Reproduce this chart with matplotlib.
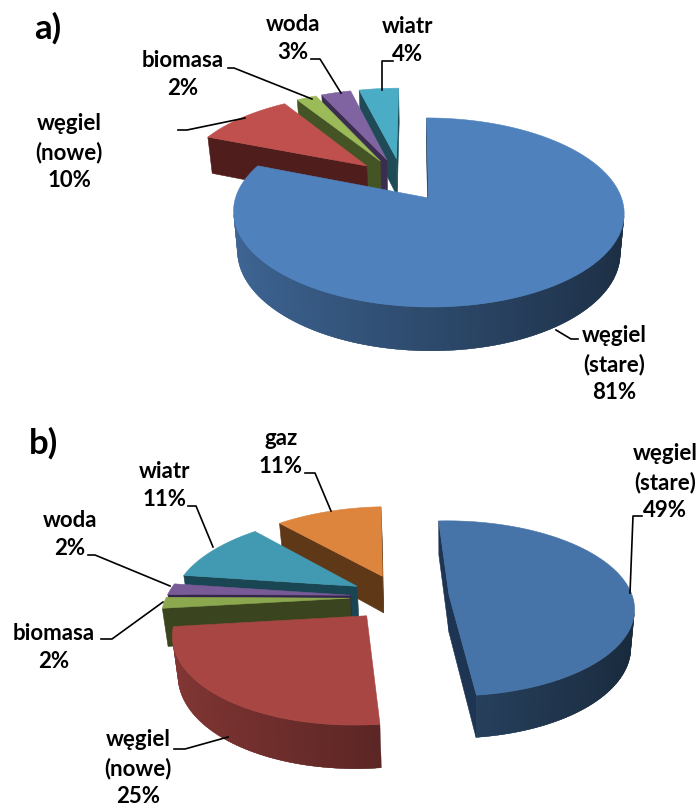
import numpy as np
import matplotlib
matplotlib.use("Agg")
from matplotlib import pyplot
from matplotlib.patches import Polygon

# shares in percent, clockwise from the first slice
namesA = ["węgiel\n(stare)", "węgiel\n(nowe)", "biomasa", "woda", "wiatr"]
valuesA = [81, 10, 2, 3, 4]
namesB = ["węgiel\n(stare)", "węgiel\n(nowe)", "biomasa", "woda", "wiatr", "gaz"]
valuesB = [49, 25, 2, 2, 11, 11]

colorsA = ["#4F81BD", "#C0504D", "#9BBB59", "#8064A2", "#4BACC6"]
sidesA = ["#1D3552", "#4F1E1C", "#445425", "#3B2D4F", "#1F4B57"]
colorsB = ["#4674A8", "#A84643", "#8CA84F", "#775A96", "#4299B2", "#DD843D"]
sidesB = ["#1D3552", "#4F1E1C", "#3A451F", "#33254A", "#1A4552", "#5E3817"]

# label centres and leader lines, in pixels
labelPosA = [(614, 335), (69, 123), (183, 60), (293, 24), (408, 26)]
leadersA = [
    [(556, 330), (571, 339), (578, 339)],
    [(245, 118), (187, 130), (178, 130)],
    [(312, 99), (234, 68), (228, 68)],
    [(341, 93), (320, 59), (311, 59)],
    [(382, 90), (382, 61), (393, 61)],
]
labelPosB = [(665, 453), (138, 739), (54, 633), (70, 520), (165, 471), (281, 438)]
leadersB = [
    [(630, 593), (633, 516), (642, 516)],
    [(228, 737), (185, 749), (174, 749)],
    [(163, 602), (112, 639), (101, 639)],
    [(170, 586), (95, 555), (88, 555)],
    [(213, 547), (196, 506), (188, 506)],
    [(331, 511), (315, 473), (305, 473)],
]

FONT = "Lato"
TILT = 0.153
SHRINK = 0.02
DRIFT = 15  # sideways pull of the vanishing point, pixels
EXPLODE_A = 0.25
EXPLODE_B = 0.27


def project(u, v, z, pie):
    s = 1 / (1 + TILT * v)
    far = 1 - SHRINK * z
    x = pie["x"] + pie["rx"] * u * s * far + DRIFT * (s - 1)
    y = pie["y"] - pie["ry"] * v * s * far + pie["depth"] * s * z
    return x, y


def shade(color, factor):
    rgb = np.array(matplotlib.colors.to_rgb(color))
    return tuple(rgb * factor)


def facesViewer(p, q, pz, qz):
    pts = [p, q, qz, pz]
    area = 0
    for i in range(4):
        a, b = pts[i], pts[(i + 1) % 4]
        area += a[0] * b[1] - b[0] * a[1]
    return area < 0


def drawFace(ax, p, q, pie, color, lw=0.4):
    # p and q are plane coordinates of one edge of the slice top
    top1, top2 = project(*p, 0, pie), project(*q, 0, pie)
    low1, low2 = project(*p, 1, pie), project(*q, 1, pie)
    if facesViewer(top1, top2, low1, low2):
        ax.add_patch(Polygon([top1, top2, low2, low1], closed=True, facecolor=color,
                             edgecolor=color, linewidth=lw))


def drawPie(ax, values, colors, sides, pie, explode):
    fractions = np.array(values) / sum(values)
    stops = np.radians(pie["start"] + 360 * np.cumsum(np.concatenate(([0], fractions))))
    mids = (stops[:-1] + stops[1:]) / 2
    # plane origin sits on the apex of the first slice
    centerU = -explode * np.sin(mids[0])
    centerV = -explode * np.cos(mids[0])
    apexes = [(centerU + explode * np.sin(m), centerV + explode * np.cos(m)) for m in mids]

    order = sorted(range(len(values)), key=lambda i: project(*apexes[i], 0, pie)[1])
    for i in order:
        au, av = apexes[i]
        angles = np.linspace(stops[i], stops[i + 1], max(int(fractions[i] * 240), 6))
        arc = [(au + np.sin(t), av + np.cos(t)) for t in angles]

        drawFace(ax, (au, av), arc[0], pie, sides[i])
        drawFace(ax, arc[-1], (au, av), pie, sides[i])
        # each outer segment overlaps the next one so no seams show
        for j in range(len(arc) - 1):
            t = (angles[j] + angles[j + 1]) / 2
            drawFace(ax, arc[j], arc[min(j + 2, len(arc) - 1)], pie,
                     shade(colors[i], 0.57 - 0.22 * np.sin(t)), lw=0.2)

        outline = [project(au, av, 0, pie)] + [project(*p, 0, pie) for p in arc]
        ax.add_patch(Polygon(outline, closed=True, facecolor=colors[i],
                             edgecolor=colors[i], linewidth=0.4))


def drawLabels(ax, names, values, positions, leaders):
    for name, value, pos, line in zip(names, values, positions, leaders):
        ax.text(pos[0], pos[1] - 10, f"{name}\n{value}%", ha="center", va="top",
                family=FONT, fontweight="bold", fontsize=16, linespacing=1.42,
                color="black")
        xs = [p[0] for p in line]
        ys = [p[1] for p in line]
        ax.plot(xs, ys, color="black", linewidth=1.2)


fig = pyplot.figure(figsize=(6.96, 8.09), dpi=100)
ax = fig.add_axes([0, 0, 1, 1])
ax.set_xlim(0, 696)
ax.set_ylim(809, 0)
ax.axis("off")

pieA = {"x": 428.5, "y": 198, "rx": 193, "ry": 92.3, "depth": 39, "start": 0}
pieB = {"x": 449, "y": 595, "rx": 183, "ry": 85.5, "depth": 37.5, "start": -3}

drawPie(ax, valuesA, colorsA, sidesA, pieA, EXPLODE_A)
drawPie(ax, valuesB, colorsB, sidesB, pieB, EXPLODE_B)
drawLabels(ax, namesA, valuesA, labelPosA, leadersA)
drawLabels(ax, namesB, valuesB, labelPosB, leadersB)

ax.text(34, 28, "a)", family=FONT, fontweight="bold", fontsize=25, va="center")
ax.text(29, 443, "b)", family=FONT, fontweight="bold", fontsize=25, va="center")

fig.savefig("out.png", dpi=100)
